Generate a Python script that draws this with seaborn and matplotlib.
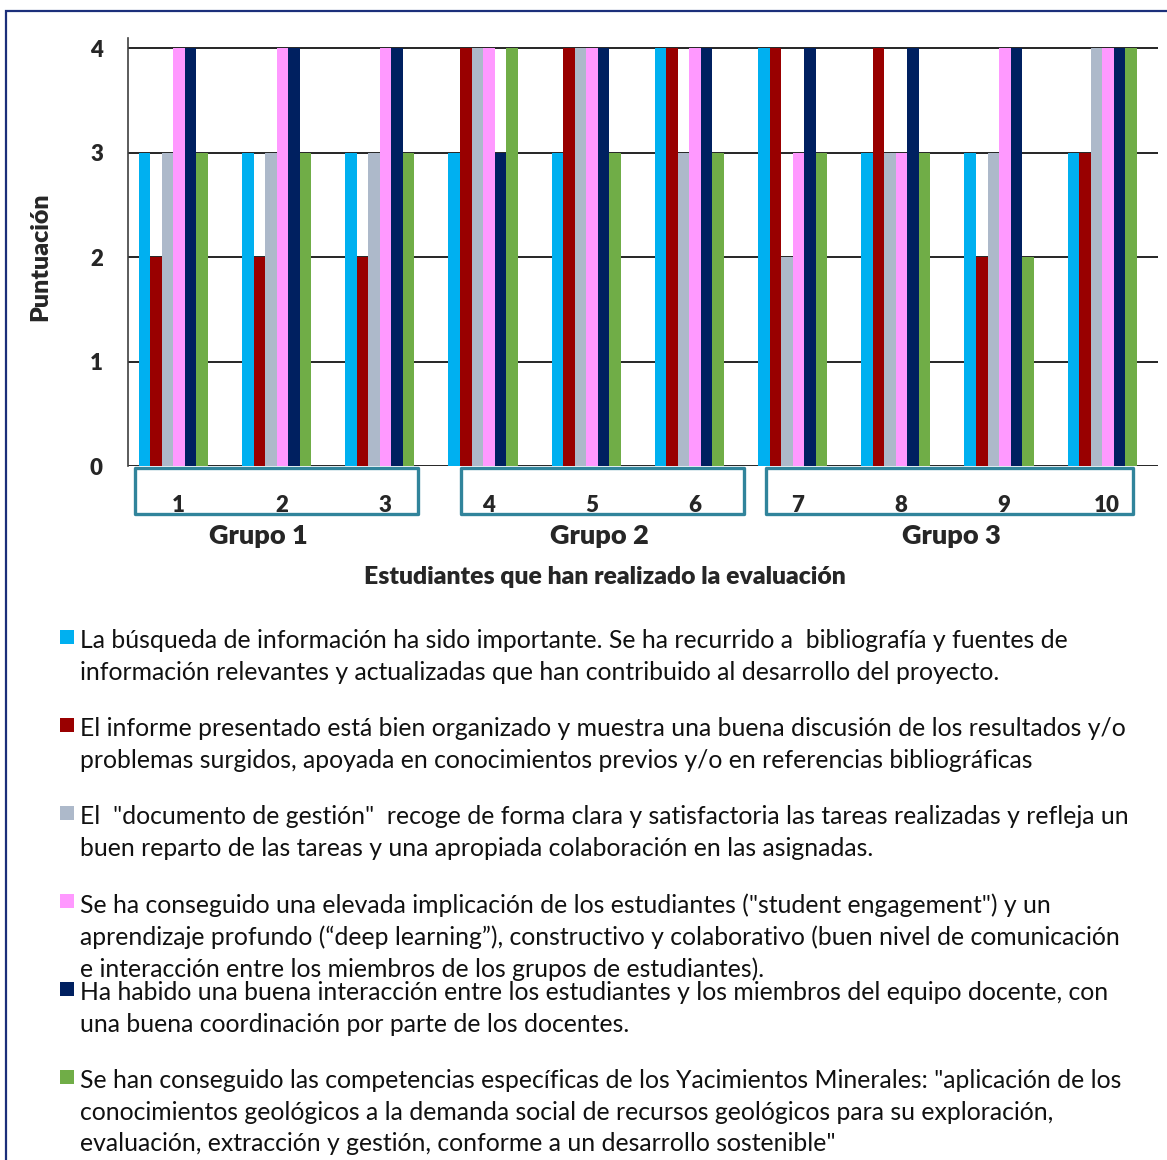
import matplotlib
matplotlib.use("Agg")
import matplotlib.pyplot as plt
from matplotlib.patches import Rectangle
import matplotlib.transforms as mtransforms
import numpy as np
import pandas as pd
import seaborn as sns

students = ['1', '2', '3', '4', '5', '6', '7', '8', '9', '10']
groups = ['Grupo 1', 'Grupo 2', 'Grupo 3']

criteria = [
    'La búsqueda de información ha sido importante. Se ha recurrido a  bibliografía y fuentes de\n'
    'información relevantes y actualizadas que han contribuido al desarrollo del proyecto.',
    'El informe presentado está bien organizado y muestra una buena discusión de los resultados y/o\n'
    'problemas surgidos, apoyada en conocimientos previos y/o en referencias bibliográficas',
    'El  "documento de gestión"  recoge de forma clara y satisfactoria las tareas realizadas y refleja un\n'
    'buen reparto de las tareas y una apropiada colaboración en las asignadas.',
    'Se ha conseguido una elevada implicación de los estudiantes ("student engagement") y un\n'
    'aprendizaje profundo (“deep learning”), constructivo y colaborativo (buen nivel de comunicación\n'
    'e interacción entre los miembros de los grupos de estudiantes).',
    'Ha habido una buena interacción entre los estudiantes y los miembros del equipo docente, con\n'
    'una buena coordinación por parte de los docentes.',
    'Se han conseguido las competencias específicas de los Yacimientos Minerales: "aplicación de los\n'
    'conocimientos geológicos a la demanda social de recursos geológicos para su exploración,\n'
    'evaluación, extracción y gestión, conforme a un desarrollo sostenible"',
]

# puntuaciones por criterio (una lista por criterio, un valor por estudiante)
busqueda = [3, 3, 3, 3, 3, 4, 4, 3, 3, 3]
informe = [2, 2, 2, 4, 4, 4, 4, 4, 2, 3]
documento = [3, 3, 3, 4, 4, 3, 2, 3, 3, 4]
implicacion = [4, 4, 4, 4, 4, 4, 3, 3, 4, 4]
interaccion = [4, 4, 4, 3, 4, 4, 4, 4, 4, 4]
competencias = [3, 3, 3, 4, 3, 3, 3, 3, 2, 4]

colors = ['#00B0F0', '#990000', '#ADB9CA', '#FF99FF', '#002060', '#70AD47']

scores = [busqueda, informe, documento, implicacion, interaccion, competencias]
rows = []
for crit, vals in zip(criteria, scores):
    for st, v in zip(students, vals):
        rows.append({'Estudiante': st, 'Criterio': crit, 'Puntuación': v})
df = pd.DataFrame(rows)

sns.set_style('white')
plt.rcParams['font.family'] = ['Lato', 'DejaVu Sans']
BOLD = 'heavy'

W, H = 1167, 1160
fig = plt.figure(figsize=(W / 100, H / 100), dpi=100)
ax = fig.add_axes([128 / W, 1 - 466 / H, 1030 / W, 428 / H])

sns.barplot(data=df, x='Estudiante', y='Puntuación', hue='Criterio',
            hue_order=criteria, palette=colors, saturation=1, width=0.67,
            linewidth=0, legend=False, ax=ax, zorder=3)

ax.set_ylim(0, 4.1)
ax.set_xlim(-0.44, 9.54)
ax.set_yticks([0, 1, 2, 3, 4])
ax.yaxis.grid(True, color='black', linewidth=1.2, zorder=0)
ax.set_axisbelow(True)
for s in ['top', 'right', 'bottom']:
    ax.spines[s].set_visible(False)
ax.spines['left'].set_color('#404040')
ax.spines['left'].set_linewidth(1.2)

ax.tick_params(axis='y', length=0, pad=18, labelsize=16)
ax.tick_params(axis='x', length=0, pad=21, labelsize=16)
shift = mtransforms.ScaledTranslation(5 / 100, 0, fig.dpi_scale_trans)
for lab in ax.get_xticklabels():
    lab.set_fontweight(BOLD)
    lab.set_transform(lab.get_transform() + shift)
for lab in ax.get_yticklabels():
    lab.set_fontweight(BOLD)

ax.set_xlabel('')
ax.set_ylabel('Puntuación', fontsize=18, fontweight=BOLD, va='center')
ax.yaxis.set_label_coords(-0.085, 0.49)

# cajas de grupo
trans = mtransforms.blended_transform_factory(ax.transData, ax.transAxes)
box_edges = [(-0.373, 2.37), (2.786, 5.53), (5.74, 9.30)]
label_x = [0.82, 4.13, 7.54]
for (x0, x1), g, lx in zip(box_edges, groups, label_x):
    ax.add_patch(Rectangle((x0, -0.112), x1 - x0, 0.108, transform=trans,
                           fill=False, edgecolor='#31849B', linewidth=2.4,
                           clip_on=False, joinstyle='round'))
    ax.text(lx, -0.163, g, transform=trans, ha='center', va='center',
            fontsize=19.5, fontweight=BOLD)

fig.text(605 / W, 1 - 577 / H, 'Estudiantes que han realizado la evaluación',
         ha='center', va='center', fontsize=17.8, fontweight=BOLD)

# leyenda
for i, (crit, c) in enumerate(zip(criteria, colors)):
    yc = 638 + 88 * i
    fig.patches.append(Rectangle((60 / W, 1 - (yc + 6) / H), 14 / W, 14 / H,
                                 transform=fig.transFigure, facecolor=c,
                                 edgecolor='none'))
    fig.text(80 / W, 1 - (yc - 9) / H, crit, ha='left', va='top',
             fontsize=17.8, linespacing=1.45, color='#111111')

# marco exterior
fig.patches.append(Rectangle((6 / W, -0.01), 1.1, 1 - 11 / H + 0.01,
                             transform=fig.transFigure, fill=False,
                             edgecolor='#1B2F7A', linewidth=1.6))

fig.savefig('out.png', dpi=100)
